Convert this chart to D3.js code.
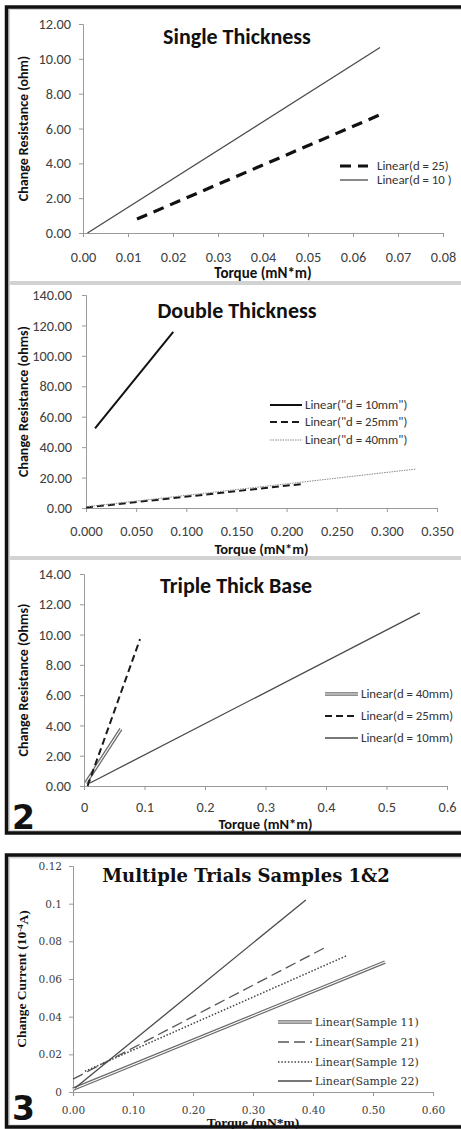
<!DOCTYPE html>
<html>
<head>
<meta charset="utf-8">
<script src="https://cdn.jsdelivr.net/npm/d3@7"></script>
<style>
body { margin: 0; background: #fff; }
svg { display: block; }
</style>
</head>
<body>
<svg id="fig" width="461" height="1129"></svg>
<script>
// ---------- data ----------
// panel 1 : Single Thickness
var p1XTicks = [0, 0.01, 0.02, 0.03, 0.04, 0.05, 0.06, 0.07, 0.08];
var p1XLabels = ["0.00", "0.01", "0.02", "0.03", "0.04", "0.05", "0.06", "0.07", "0.08"];
var p1YTicks = [0, 2, 4, 6, 8, 10, 12];
var p1YLabels = ["0.00", "2.00", "4.00", "6.00", "8.00", "10.00", "12.00"];
var p1Names = ["Linear(d = 25)", "Linear(d = 10 )"];
var p1X = [[0.012, 0.067], [0.001, 0.066]];
var p1Y = [[0.80, 6.90], [0.00, 10.65]];
var p1Styles = ["dashBold", "solidThin"];

// panel 2 : Double Thickness
var p2XTicks = [0, 0.05, 0.1, 0.15, 0.2, 0.25, 0.3, 0.35];
var p2XLabels = ["0.000", "0.050", "0.100", "0.150", "0.200", "0.250", "0.300", "0.350"];
var p2YTicks = [0, 20, 40, 60, 80, 100, 120, 140];
var p2YLabels = ["0.00", "20.00", "40.00", "60.00", "80.00", "100.00", "120.00", "140.00"];
var p2Names = ['Linear("d = 10mm")', 'Linear("d = 25mm")', 'Linear("d = 40mm")'];
var p2X = [[0.009, 0.087], [0.0, 0.216], [0.0, 0.329]];
var p2Y = [[52.4, 115.7], [0.3, 15.8], [0.8, 25.6]];
var p2Styles = ["solidBold", "dash", "dotGray"];

// panel 3 : Triple Thick Base
var p3XTicks = [0, 0.1, 0.2, 0.3, 0.4, 0.5, 0.6];
var p3XLabels = ["0", "0.1", "0.2", "0.3", "0.4", "0.5", "0.6"];
var p3YTicks = [0, 2, 4, 6, 8, 10, 12, 14];
var p3YLabels = ["0.00", "2.00", "4.00", "6.00", "8.00", "10.00", "12.00", "14.00"];
var p3Names = ["Linear(d = 40mm)", "Linear(d = 25mm)", "Linear(d = 10mm)"];
var p3X = [[0.003, 0.061], [0.006, 0.0926], [0.01, 0.555]];
var p3Y = [[0.2, 3.76], [0.0, 9.7], [0.2, 11.43]];
var p3Styles = ["double", "dash", "solidThin"];

// panel 4 : Multiple Trials Samples 1&2
var p4XTicks = [0, 0.1, 0.2, 0.3, 0.4, 0.5, 0.6];
var p4XLabels = ["0.00", "0.10", "0.20", "0.30", "0.40", "0.50", "0.60"];
var p4YTicks = [0, 0.02, 0.04, 0.06, 0.08, 0.1, 0.12];
var p4YLabels = ["0", "0.02", "0.04", "0.06", "0.08", "0.1", "0.12"];
var p4Names = ["Linear(Sample 11)", "Linear(Sample 21)", "Linear(Sample 12)", "Linear(Sample 22)"];
var p4X = [[0.0, 0.52], [0.0, 0.425], [0.02, 0.457], [0.003, 0.388]];
var p4Y = [[0.0015, 0.069], [0.0068, 0.0775], [0.011, 0.0725], [0.002, 0.102]];
var p4Styles = ["double", "longDash", "dot", "solidThin"];

// ---------- drawing ----------
var SANS = "Carlito, Lato, 'Open Sans', sans-serif";
var SERIF = "'DejaVu Serif', serif";
var SERIF2 = "'Liberation Serif', 'Times New Roman', serif";

var lineStyles = {
	solidThin: [{w: 1.3, c: "#4a4a4a"}],
	solidBold: [{w: 2, c: "#111"}],
	dashBold: [{w: 3.2, c: "#111", dash: "11,7"}],
	dash: [{w: 2, c: "#1a1a1a", dash: "7,4"}],
	dotGray: [{w: 1, c: "#8a8a8a", dash: "1.5,1"}],
	double: [{w: 3.6, c: "#6a6a6a"}, {w: 1.1, c: "#fff"}],
	longDash: [{w: 1.3, c: "#555", dash: "11,5"}],
	dot: [{w: 1.5, c: "#444", dash: "1.5,1.8"}]
};

var svg = d3.select("#fig");
var line = d3.line();

function strokeLine(g, pts, style) {
	lineStyles[style].forEach(function(s) {
		g.append("path")
			.attr("d", line(pts))
			.attr("fill", "none")
			.attr("stroke", s.c)
			.attr("stroke-width", s.w)
			.attr("stroke-dasharray", s.dash || null);
	});
}

function drawBlock(y0, y1, whites) {
	svg.append("rect").attr("x", 6.5).attr("y", y0).attr("width", 470).attr("height", y1 - y0)
		.attr("fill", "#d2d2d2");
	whites.forEach(function(w) {
		svg.append("rect").attr("x", 10).attr("y", w[0]).attr("width", 460).attr("height", w[1] - w[0])
			.attr("fill", "#fff");
	});
	svg.append("rect").attr("x", 6.5).attr("y", y0).attr("width", 470).attr("height", y1 - y0)
		.attr("fill", "none").attr("stroke", "#111").attr("stroke-width", 3.5);
}

function drawPanel(c) {
	var g = svg.append("g");
	var x = d3.scaleLinear().domain(c.xDom).range(c.xRange);
	var y = d3.scaleLinear().domain(c.yDom).range(c.yRange);

	var xa = g.append("g")
		.attr("transform", "translate(0," + c.yRange[0] + ")")
		.call(d3.axisBottom(x).tickValues(c.xTicks)
			.tickFormat(function(d, i) { return c.xLabels[i]; })
			.tickSize(4));
	xa.selectAll("text").attr("y", c.xLabelDy).attr("dy", null);

	var ya = g.append("g")
		.attr("transform", "translate(" + c.xRange[0] + ",0)")
		.call(d3.axisLeft(y).tickValues(c.yTicks)
			.tickFormat(function(d, i) { return c.yLabels[i]; })
			.tickSize(4).tickPadding(c.yLabelGap - 4));

	[xa, ya].forEach(function(a) {
		a.select(".domain").attr("stroke", "#9a9a9a");
		a.selectAll(".tick line").attr("stroke", "#9a9a9a");
		a.selectAll("text").attr("fill", "#404040")
			.style("font-family", c.tickFont).style("font-size", c.tickSize + "px");
	});

	c.names.forEach(function(n, i) {
		var pts = c.xs[i].map(function(v, j) { return [x(v), y(c.ys[i][j])]; });
		strokeLine(g, pts, c.styles[i]);
	});

	// legend
	c.names.forEach(function(n, i) {
		strokeLine(g, [[c.legX[0], c.legY[i]], [c.legX[1], c.legY[i]]], c.styles[i]);
		g.append("text")
			.attr("x", c.legTextX).attr("y", c.legY[i]).attr("dy", "0.35em")
			.attr("fill", "#333")
			.style("font-family", c.legFont).style("font-size", c.legSize + "px")
			.text(n);
	});

	g.append("text")
		.attr("x", c.titleX).attr("y", c.titleY)
		.attr("text-anchor", "middle").attr("fill", "#111")
		.style("font-family", c.titleFont).style("font-size", c.titleSize + "px")
		.style("font-weight", "bold")
		.text(c.title);

	g.append("text")
		.attr("x", (c.xRange[0] + c.xRange[1]) / 2).attr("y", c.xTitleY)
		.attr("text-anchor", "middle").attr("fill", "#111")
		.style("font-family", c.axisFont).style("font-size", c.axisSize + "px")
		.style("font-weight", "bold")
		.text(c.xTitle);

	var yt = g.append("text")
		.attr("transform", "translate(" + c.yTitleX + "," + (c.yRange[0] + c.yRange[1]) / 2 + ") rotate(-90)")
		.attr("text-anchor", "middle").attr("fill", "#111")
		.style("font-family", c.axisFont).style("font-size", c.yTitleSize + "px")
		.style("font-weight", "bold");
	yt.append("tspan").text(c.yTitle[0]);
	if (c.yTitle.length > 1) {
		yt.append("tspan").attr("dy", "-0.4em").style("font-size", (c.yTitleSize * 0.65) + "px").text(c.yTitle[1]);
		yt.append("tspan").attr("dy", "0.4em").text(c.yTitle[2]);
	}
}

drawBlock(7, 833, [[10, 281], [285, 556], [560, 830]]);
drawBlock(855, 1127, [[858.5, 1124.5]]);

drawPanel({
	xDom: [0, 0.08], xRange: [83, 443], yDom: [0, 12], yRange: [233, 24],
	xTicks: p1XTicks, xLabels: p1XLabels, yTicks: p1YTicks, yLabels: p1YLabels,
	xLabelDy: 29, yLabelGap: 12, tickFont: SANS, tickSize: 14.3,
	names: p1Names, xs: p1X, ys: p1Y, styles: p1Styles,
	legX: [340, 368], legTextX: 377, legY: [166, 180], legFont: SANS, legSize: 12.8,
	title: "Single Thickness", titleX: 237, titleY: 44, titleFont: SANS, titleSize: 22,
	xTitle: "Torque (mN*m)", xTitleY: 278, axisFont: SANS, axisSize: 15,
	yTitle: ["Change Resistance (ohm)"], yTitleX: 28, yTitleSize: 14
});

drawPanel({
	xDom: [0, 0.35], xRange: [86, 437], yDom: [0, 140], yRange: [508, 295],
	xTicks: p2XTicks, xLabels: p2XLabels, yTicks: p2YTicks, yLabels: p2YLabels,
	xLabelDy: 28, yLabelGap: 14, tickFont: SANS, tickSize: 14.3,
	names: p2Names, xs: p2X, ys: p2Y, styles: p2Styles,
	legX: [270, 302], legTextX: 305, legY: [405, 422, 440], legFont: SANS, legSize: 12.8,
	title: "Double Thickness", titleX: 237, titleY: 318, titleFont: SANS, titleSize: 22,
	xTitle: "Torque (mN*m)", xTitleY: 554, axisFont: SANS, axisSize: 14.5,
	yTitle: ["Change Resistance (ohms)"], yTitleX: 28, yTitleSize: 14
});

drawPanel({
	xDom: [0, 0.6], xRange: [84, 447], yDom: [0, 14], yRange: [786, 574],
	xTicks: p3XTicks, xLabels: p3XLabels, yTicks: p3YTicks, yLabels: p3YLabels,
	xLabelDy: 25.5, yLabelGap: 13, tickFont: SANS, tickSize: 14.3,
	names: p3Names, xs: p3X, ys: p3Y, styles: p3Styles,
	legX: [325, 358], legTextX: 361, legY: [694, 716, 738], legFont: SANS, legSize: 12.8,
	title: "Triple Thick Base", titleX: 236, titleY: 593, titleFont: SANS, titleSize: 22,
	xTitle: "Torque (mN*m)", xTitleY: 829, axisFont: SANS, axisSize: 14.5,
	yTitle: ["Change Resistance (Ohms)"], yTitleX: 28, yTitleSize: 14
});

drawPanel({
	xDom: [0, 0.6], xRange: [73, 433], yDom: [0, 0.12], yRange: [1092, 866],
	xTicks: p4XTicks, xLabels: p4XLabels, yTicks: p4YTicks, yLabels: p4YLabels,
	xLabelDy: 22, yLabelGap: 11, tickFont: SERIF, tickSize: 10.5,
	names: p4Names, xs: p4X, ys: p4Y, styles: p4Styles,
	legX: [278, 312], legTextX: 315, legY: [1022, 1042, 1062, 1081], legFont: SERIF, legSize: 11,
	title: "Multiple Trials Samples 1&2", titleX: 246, titleY: 882, titleFont: SERIF, titleSize: 18,
	xTitle: "Torque (mN*m)", xTitleY: 1126.5, axisFont: SERIF2, axisSize: 13.5,
	yTitle: ["Change Current (10", "-4", "A)"], yTitleX: 26, yTitleSize: 13.5
});

// figure numbers
svg.append("text").attr("x", 12).attr("y", 829)
	.style("font-family", "'DejaVu Sans', sans-serif").style("font-size", "33px").style("font-weight", "bold")
	.attr("fill", "#111").text("2");
svg.append("text").attr("x", 12).attr("y", 1120)
	.style("font-family", "'DejaVu Sans', sans-serif").style("font-size", "33px").style("font-weight", "bold")
	.attr("fill", "#111").text("3");
</script>
</body>
</html>
